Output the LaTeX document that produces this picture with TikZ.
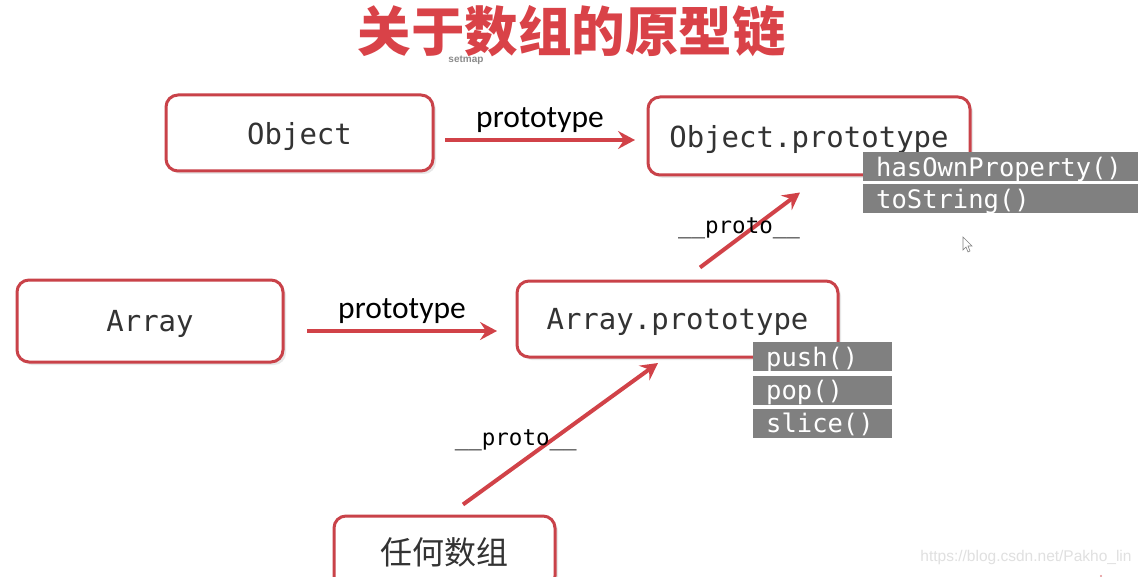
\documentclass[tikz,border=0pt]{standalone}
\usepackage{fontspec}
\usetikzlibrary{arrows.meta,shadows,calc}
\newfontfamily\cjk{Noto Sans CJK SC}
\newfontfamily\monof{DejaVu Sans Mono}
\newfontfamily\calib{Carlito}
\newfontfamily\arialf{Liberation Sans}
\definecolor{titlered}{RGB}{217,66,72}
\definecolor{boxred}{RGB}{201,66,73}
\definecolor{arrred}{RGB}{209,66,72}
\definecolor{textdark}{RGB}{51,51,51}
\definecolor{methodgray}{RGB}{128,128,128}
\begin{document}
\begin{tikzpicture}[x=1pt,y=-1pt,
  box/.style={draw=boxred, line width=3pt, rounded corners=12pt, fill=white,
    drop shadow={shadow xshift=3pt, shadow yshift=-3pt, opacity=0.18},
    text=textdark, inner sep=0pt, text depth=0pt, font=\monof\fontsize{29}{31}\selectfont},
  method/.style={anchor=west, fill=methodgray, text=white, inner xsep=13pt, inner ysep=0pt,
    minimum height=29pt, align=left, text depth=0pt, font=\monof\fontsize{25.5}{27}\selectfont},
  arr/.style={draw=arrred, line width=4pt, -{Stealth[length=17pt,width=18pt,inset=6pt]}},
  protolbl/.style={font=\calib\fontsize{31.5}{34}\selectfont, text=black},
  dunderlbl/.style={font=\monof\fontsize{22.5}{25}\selectfont, text=black, fill=none}]
\path[use as bounding box, clip] (0,0) rectangle (1142,577);
\fill[white] (0,0) rectangle (1142,577);
% title
\node[text=titlered, font=\cjk\bfseries\fontsize{53.5}{57}\selectfont] (title) at (571.5,31) {关于数组的原型链};
\node[text=gray!90, font=\arialf\bfseries\fontsize{10}{11}\selectfont, inner sep=0pt] (setmap) at (466,60) {setmap};
% boxes
\node[box, minimum width=267pt, minimum height=76pt] (obj) at (299.5,133) {Object};
\node[box, minimum width=322pt, minimum height=78pt] (objp) at (809,136) {Object.prototype};
\node[box, minimum width=266pt, minimum height=82pt] (arr) at (150,321) {Array};
\node[box, minimum width=321pt, minimum height=76pt] (arrp) at (677.5,319) {Array.prototype};
\node[box, minimum width=221pt, minimum height=72pt, text depth=, font=\cjk\fontsize{32}{34}\selectfont] (any) at (444.5,552) {任何数组};
% methods
\node[method, text width=249pt] (hop) at (863,166.5) {hasOwnProperty()};
\node[method, text width=249pt] (tos) at (863,199) {toString()};
\node[method, text width=113pt] (push) at (753,356.5) {push()};
\node[method, text width=113pt] (pop) at (753,390) {pop()};
\node[method, text width=113pt] (slice) at (753,423) {slice()};
% arrows
\draw[arr] ($(obj.east)+(10.5,7)$) -- node[protolbl, above=2pt] (l1) {prototype} ($(objp.west)+(-11.5,4)$);
\draw[arr] ($(arr.east)+(22.5,10)$) -- node[protolbl, above=2pt] (l2) {prototype} ($(arrp.west)+(-18.5,12)$);
\draw[arr] ($(arrp.north)+(22.5,-12)$) -- node[dunderlbl, pos=0.45, xshift=-6pt, yshift=5pt] (l3) {\_\_proto\_\_} ($(objp.south)+(-9,16)$);
\draw[arr] ($(any.north)+(18.5,-10)$) -- node[dunderlbl, pos=0.45, xshift=-35pt, yshift=1pt] (l4) {\_\_proto\_\_} ($(arrp.south)+(-19.5,4.5)$);
% cursor
\filldraw[fill=white, draw=gray, line width=0.6pt] (963,237) -- (963,250) -- (966,247) -- (968,252) -- (970,251) -- (968,246) -- (972,246) -- cycle;
% watermark
\node[text=black!12, font=\arialf\fontsize{15.5}{17}\selectfont] (wm) at (1026,557) {https://blog.csdn.net/Pakho\_lin};
\fill[arrred!60] (1101,576) circle (1.2pt);
\end{tikzpicture}
\end{document}
